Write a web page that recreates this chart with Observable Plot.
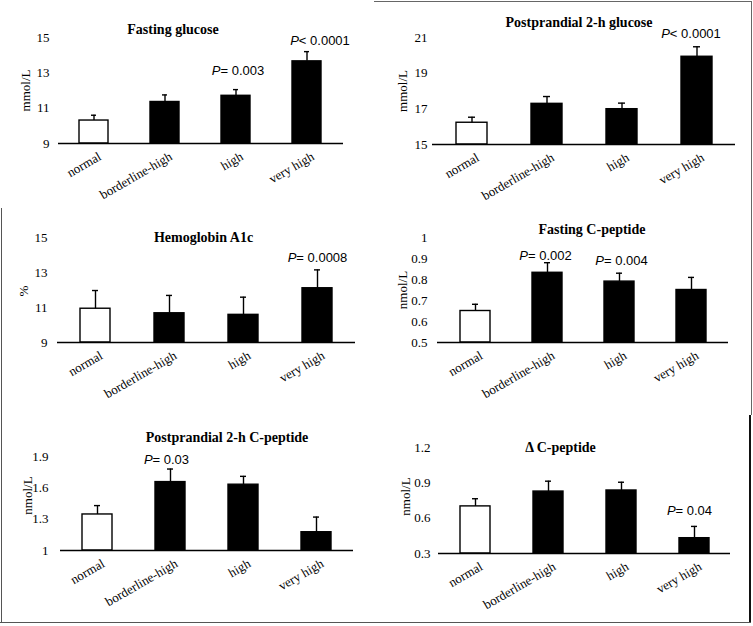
<!DOCTYPE html>
<html><head><meta charset="utf-8">
<script src="https://cdn.jsdelivr.net/npm/d3@7"></script>
<script src="https://cdn.jsdelivr.net/npm/@observablehq/plot@0.6"></script>
<style>
html,body{margin:0;padding:0;background:#fff;}
#root{position:relative;width:753px;height:626px;overflow:hidden;background:#fff;}
.panel{position:absolute;}
.edge{position:absolute;}
</style></head><body><div id="root"></div>
<script>
// ---- data ----
const categories = ["normal", "borderline-high", "high", "very high"];

const fastingGlucoseMean = [10.3, 11.35, 11.7, 13.65];
const fastingGlucoseSE   = [0.3, 0.4, 0.35, 0.55];
const ppGlucoseMean = [16.22, 17.28, 16.98, 19.92];
const ppGlucoseSE   = [0.31, 0.41, 0.34, 0.56];
const hba1cMean = [10.93, 10.67, 10.58, 12.1];
const hba1cSE   = [1.04, 1.02, 1.01, 1.05];
const fastingCpMean = [0.65, 0.832, 0.79, 0.75];
const fastingCpSE   = [0.032, 0.048, 0.04, 0.06];
const ppCpMean = [1.345, 1.655, 1.63, 1.175];
const ppCpSE   = [0.085, 0.125, 0.08, 0.145];
const deltaCpMean = [0.70, 0.826, 0.835, 0.43];
const deltaCpSE   = [0.065, 0.088, 0.07, 0.10];

const ticksFastingGlucose = [9, 11, 13, 15];
const ticksPpGlucose = [15, 17, 19, 21];
const ticksHba1c = [9, 11, 13, 15];
const ticksFastingCp = [0.5, 0.6, 0.7, 0.8, 0.9, 1];
const ticksPpCp = [1, 1.3, 1.6, 1.9];
const ticksDeltaCp = [0.3, 0.6, 0.9, 1.2];

const titles = ["Fasting glucose", "Postprandial 2-h glucose", "Hemoglobin A1c",
                "Fasting C-peptide", "Postprandial 2-h C-peptide", "\u0394 C-peptide"];
const units = ["mmol/L", "mmol/L", "%", "nmol/L", "nmol/L", "nmol/L"];

const pFastingGlucose = [["high", "P= 0.003"], ["very high", "P< 0.0001"]];
const pPpGlucose = [["very high", "P< 0.0001"]];
const pHba1c = [["very high", "P= 0.0008"]];
const pFastingCp = [["borderline-high", "P= 0.002"], ["high", "P= 0.004"]];
const pPpCp = [["borderline-high", "P= 0.03"]];
const pDeltaCp = [["very high", "P= 0.04"]];

// ---- layout (positions / styles) ----
const panels = [
  {mean: fastingGlucoseMean, se: fastingGlucoseSE, ticks: ticksFastingGlucose, p: pFastingGlucose,
   left: 0, top: 0, width: 375, height: 205, mL: 58, mR: 32, mT: 37, mB: 62,
   titleDx: -28, titleDy: -8, tickPad: 9, labelX: 25.5, labelDy: 0, pOff: [[2, -19], [13, -11]]},
  {mean: ppGlucoseMean, se: ppGlucoseSE, ticks: ticksPpGlucose, p: pPpGlucose,
   left: 375, top: 0, width: 378, height: 205, mL: 57, mR: 18, mT: 37, mB: 61,
   titleDx: -5, titleDy: -15, tickPad: 5, labelX: 27, labelDy: 0, pOff: [[-6, -13]]},
  {mean: hba1cMean, se: hba1cSE, ticks: ticksHba1c, p: pHba1c,
   left: 0, top: 205, width: 375, height: 205, mL: 57, mR: 20, mT: 32, mB: 68,
   titleDx: -3, titleDy: 0, tickPad: 10, labelX: 23, labelDy: 1, pOff: [[0, -12]]},
  {mean: fastingCpMean, se: fastingCpSE, ticks: ticksFastingCp, p: pFastingCp,
   left: 375, top: 205, width: 378, height: 205, mL: 62, mR: 25, mT: 32, mB: 68,
   titleDx: 9, titleDy: -8, tickPad: 10, labelX: 27, labelDy: 0, pOff: [[-2, -7], [2, -12]]},
  {mean: ppCpMean, se: ppCpSE, ticks: ticksPpCp, p: pPpCp,
   left: 0, top: 410, width: 375, height: 216, mL: 60, mR: 22, mT: 46, mB: 76,
   titleDx: 20, titleDy: -19, tickPad: 12, labelX: 27, labelDy: -8, pOff: [[-4, -9]]},
  {mean: deltaCpMean, se: deltaCpSE, ticks: ticksDeltaCp, p: pDeltaCp,
   left: 375, top: 410, width: 378, height: 216, mL: 63, mR: 23, mT: 37, mB: 73,
   titleDx: -24, titleDy: 0, tickPad: 8, labelX: 30.5, labelDy: -4, pOff: [[-5, -16]]}
];

const root = document.getElementById("root");
const SW = 1.4;

panels.forEach((cfg, i) => {
  const rows = categories.map((c, j) => ({cat: c, value: cfg.mean[j], top: cfg.mean[j] + cfg.se[j]}));
  const ymin = cfg.ticks[0], ymax = cfg.ticks[cfg.ticks.length - 1];
  const topOf = c => rows.find(r => r.cat === c).top;
  const pMarks = cfg.p.map(([c, t], k) => Plot.text([{cat: c, top: topOf(c), label: t}], {
    x: "cat", y: "top", text: "label", dx: cfg.pOff[k][0], dy: cfg.pOff[k][1],
    fontFamily: "Liberation Sans, Arial, sans-serif", fontSize: 13, lineAnchor: "middle"
  }));
  const svg = Plot.plot({
    width: cfg.width, height: cfg.height,
    marginLeft: cfg.mL, marginRight: cfg.mR, marginTop: cfg.mT, marginBottom: cfg.mB,
    style: {fontFamily: "Liberation Serif, 'Times New Roman', serif", fontSize: "13px", background: "transparent", overflow: "visible", color: "#000"},
    x: {domain: categories, paddingInner: 0.59, paddingOuter: 0.295, align: 0.5, label: null},
    y: {domain: [ymin, ymax], label: null},
    color: {type: "identity"},
    marks: [
      Plot.barY(rows, {x: "cat", y1: () => ymin, y2: "value",
        fill: d => d.cat === "normal" ? "#fff" : "#000", stroke: "#000", strokeWidth: SW}),
      Plot.ruleX(rows, {x: "cat", y1: "value", y2: "top", stroke: "#000", strokeWidth: SW}),
      Plot.tickY(rows, {x: "cat", y: "top", insetLeft: 12, insetRight: 12, stroke: "#000", strokeWidth: SW}),
      Plot.ruleY([ymin], {stroke: "#000", strokeWidth: 1.6}),
      Plot.axisY({ticks: cfg.ticks, tickSize: 0, tickPadding: cfg.tickPad, tickFormat: d => String(d), label: null}),
      Plot.axisX({tickRotate: -30, tickSize: 0, tickPadding: 10, dx: 6, dy: 2, label: null}),
      Plot.text([titles[i]], {frameAnchor: "top", dx: cfg.titleDx, dy: cfg.titleDy, fontWeight: "bold", fontSize: 14, lineAnchor: "middle"}),
      Plot.text([units[i]], {frameAnchor: "left", textAnchor: "middle", dx: cfg.labelX - cfg.mL, dy: cfg.labelDy, rotate: -90, fontSize: 13, lineAnchor: "middle"}),
      ...pMarks
    ]
  });
  d3.select(svg).selectAll("text").each(function () {
    const t = this.textContent;
    if (!/^P[=<] /.test(t) || this.children.length) return;
    const sel = d3.select(this);
    sel.text(null);
    sel.append("tspan").attr("font-style", "italic").text(t[0]);
    sel.append("tspan").text(t.slice(1));
  });
  const div = document.createElement("div");
  div.className = "panel";
  div.style.left = cfg.left + "px";
  div.style.top = cfg.top + "px";
  div.appendChild(svg);
  root.appendChild(div);
});

// decorative frame fragments of the composite figure
const edges = [
  {l: 374, t: 1, w: 378, h: 1, c: "#666"},
  {l: 751, t: 1, w: 1, h: 414, c: "#666"},
  {l: 749, t: 415, w: 2, h: 208, c: "#111"},
  {l: 1, t: 208, w: 1, h: 415, c: "#555"},
  {l: 0, t: 622, w: 751, h: 1, c: "#555"}
];
edges.forEach(e => {
  const d = document.createElement("div");
  d.className = "edge";
  Object.assign(d.style, {left: e.l + "px", top: e.t + "px", width: e.w + "px", height: e.h + "px", background: e.c});
  root.appendChild(d);
});
</script></body></html>
